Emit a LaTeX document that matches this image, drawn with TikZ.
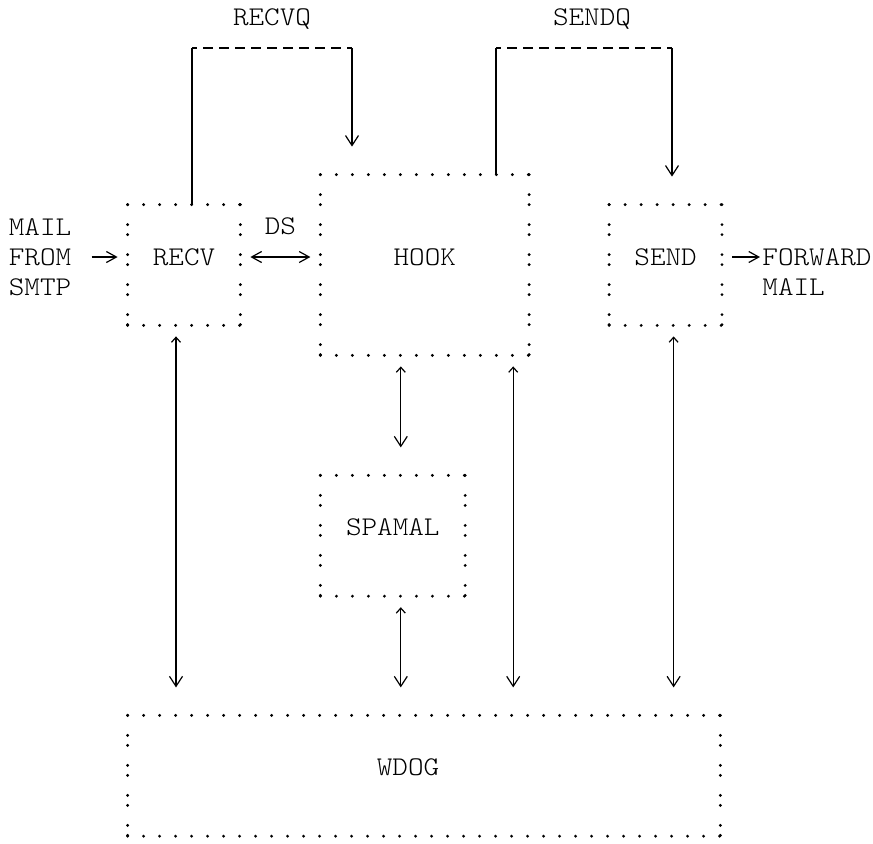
\documentclass[tikz,border=0pt]{standalone}
\usepackage{fontspec}
\newfontfamily\asciifont[FakeStretch=1.1]{lmmonolt10-regular.otf}
\usetikzlibrary{arrows.meta,positioning}
\tikzset{
  asc/.style={font=\asciifont\fontsize{13.5}{15}\selectfont},
  % boxes drawn as dot rows and colon columns
  box/.style={asc,inner sep=0pt,text height=8.25pt,text depth=8.25pt},
  dotrow/.style={line width=1.6pt,line cap=round,dash pattern=on 0pt off 8pt},
  dotcol/.style={line width=1.6pt,line cap=round,dash pattern=on 0pt off 10pt on 0pt off 5pt},
  txt/.style={asc,inner sep=0pt,align=left},
  qlabel/.style={asc,inner sep=0pt,text height=8.25pt,text depth=0pt,above=11pt},
  % tips
  vtip/.tip={Straight Barb[length=5pt,width=6.5pt]},
  captip/.tip={Straight Barb[length=2.5pt,width=4.5pt]},
  gttip/.tip={Straight Barb[length=5pt,width=5.5pt]},
  % connectors
  wire/.style={line width=0.6pt},
  qbar/.style={wire,dash pattern=on 5pt off 3pt,dash phase=2.5pt},
  updown/.style={wire,captip-vtip,shorten <=5.5pt,shorten >=14pt},
}

\begin{document}
\begin{tikzpicture}[x=0.5pt,y=-0.5pt]
\useasboundingbox (0,0) rectangle (873,843);

\node[box,minimum width=56pt,minimum height=60pt] (recv) at (184,265) {RECV};
\node[box,minimum width=104pt,minimum height=90pt,right=40pt of recv] (hook) {HOOK};
\node[box,minimum width=56pt,minimum height=60pt,right=40pt of hook] (send) {SEND};
\node[box,minimum width=72pt,minimum height=60pt,below=60pt of hook.south west,anchor=north west] (spamal) {SPAMAL};
\node[box,minimum width=296pt,minimum height=60pt,below=195pt of recv.south west,anchor=north west] (wdog) {WDOG\hspace*{16pt}};

\node[txt,left=28pt of recv,yshift=4pt] (mailin) {MAIL\\FROM\\SMTP};
\node[txt,right=20pt of send,yshift=-3.5pt] (fwd) {FORWARD\\MAIL};

% dotted borders
\foreach \b in {recv,hook,send,spamal,wdog}{
  \draw[dotrow] (\b.north west) -- (\b.north east) (\b.south west) -- (\b.south east);
  \draw[dotcol] (\b.north west) -- (\b.south west) (\b.north east) -- (\b.south east);
}

% queues
\coordinate (rqa) at (192,48);
\coordinate (rqb) at (352,48);
\coordinate (sqa) at (496,48);
\coordinate (sqb) at (672,48);
\draw[wire] (recv.north -| rqa) -- (rqa);
\draw[qbar] (rqa) -- node[qlabel] (recvq) {RECVQ} (rqb);
\draw[wire,-vtip,shorten >=14pt] (rqb) -- (hook.north -| rqb);
\draw[wire] (hook.north -| sqa) -- (sqa);
\draw[qbar] (sqa) -- node[qlabel,xshift=4pt] (sendq) {SENDQ} (sqb);
\draw[wire,-vtip,shorten >=14pt] (sqb) -- (send.north -| sqb);

% mail in and out
\draw[wire,-gttip,shorten <=10pt,shorten >=5pt] (mailin.east) -- (mailin.east -| recv.west);
\draw[wire,gttip-gttip,shorten <=5pt,shorten >=5pt] ([yshift=4pt]recv.east) -- node[qlabel] (ds) {DS} ([yshift=4pt]hook.west);
\draw[wire,-gttip,shorten <=5pt,shorten >=1pt] ([yshift=4pt]send.east) -- ([yshift=4pt]send.east -| fwd.west);

% links to the watchdog
\draw[updown] ([xshift=-4pt]recv.south) -- ([xshift=-4pt]recv.south |- wdog.north);
\draw[updown] ([xshift=4pt]spamal.north |- hook.south) -- ([xshift=4pt]spamal.north);
\draw[updown] ([xshift=4pt]spamal.south) -- ([xshift=4pt]spamal.south |- wdog.north);
\draw[updown] ([xshift=-8pt]hook.south east) -- ([xshift=-8pt]hook.south east |- wdog.north);
\draw[updown] ([xshift=4pt]send.south) -- ([xshift=4pt]send.south |- wdog.north);
\end{tikzpicture}
\end{document}
